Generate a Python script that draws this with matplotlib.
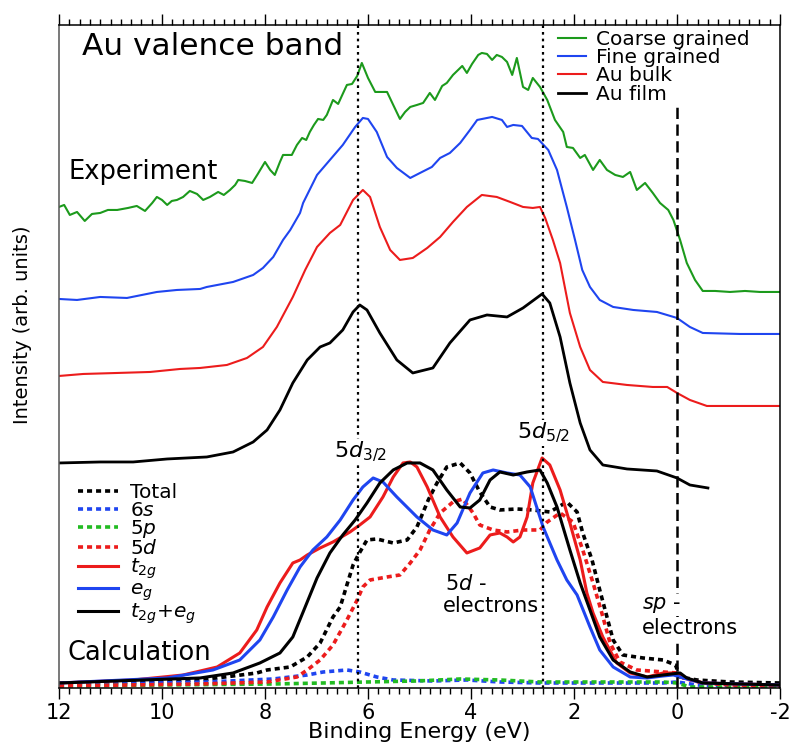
import matplotlib
matplotlib.use("Agg")
import matplotlib.pyplot as plt
from matplotlib.ticker import MultipleLocator

plt.rcParams["axes.unicode_minus"] = False

# ---------------------------------------------------------------------------
# Experimental spectra (binding energy in eV, intensity in arb. units,
# already stacked with the vertical offsets used in the figure)
# ---------------------------------------------------------------------------
coarse_e = [12.00, 11.90, 11.79, 11.65, 11.50, 11.36, 11.20, 11.05, 10.87, 10.66,
            10.49, 10.33, 10.19, 10.10, 10.00, 9.90, 9.81, 9.71, 9.59, 9.46,
            9.32, 9.20, 9.07, 8.91, 8.80, 8.68, 8.58, 8.52, 8.39, 8.25,
            8.14, 8.00, 7.90, 7.81, 7.71, 7.65, 7.48, 7.38, 7.28, 7.20,
            7.13, 7.05, 6.97, 6.87, 6.80, 6.68, 6.58, 6.50, 6.41, 6.31,
            6.21, 6.12, 6.00, 5.86, 5.75, 5.63, 5.51, 5.38, 5.28, 5.18,
            5.05, 4.93, 4.80, 4.70, 4.56, 4.47, 4.35, 4.25, 4.17, 4.08,
            3.98, 3.86, 3.79, 3.69, 3.59, 3.50, 3.40, 3.30, 3.20, 3.11,
            2.99, 2.89, 2.80, 2.66, 2.52, 2.37, 2.21, 2.14, 2.02, 1.88,
            1.79, 1.63, 1.50, 1.36, 1.20, 1.05, 0.91, 0.78, 0.62, 0.47,
            0.33, 0.17, 0.07, -0.06, -0.19, -0.35, -0.50, -0.74, -1.03, -1.32,
            -1.61, -2.00]
coarse_i = [481, 483, 473, 476, 467, 474, 475, 478, 478, 480,
            482, 477, 485, 491, 488, 483, 487, 488, 491, 497,
            494, 488, 491, 496, 493, 498, 503, 508, 507, 505,
            514, 526, 518, 513, 526, 533, 533, 543, 550, 548,
            556, 563, 569, 568, 573, 588, 584, 593, 603, 604,
            612, 625, 610, 596, 596, 596, 583, 569, 576, 581,
            583, 585, 595, 588, 602, 605, 613, 618, 622, 615,
            624, 633, 635, 634, 628, 633, 631, 626, 613, 630,
            601, 598, 610, 601, 588, 568, 556, 541, 540, 530,
            533, 518, 528, 518, 513, 511, 516, 498, 505, 495,
            485, 478, 468, 448, 425, 408, 397, 397, 396, 397,
            396, 396]

fine_e = [12.00, 11.65, 11.20, 10.68, 10.10, 9.71, 9.26, 9.13, 8.62, 8.23,
          8.04, 7.84, 7.65, 7.51, 7.32, 7.26, 6.99, 6.74, 6.49, 6.25,
          6.10, 6.00, 5.83, 5.63, 5.44, 5.18, 4.99, 4.76, 4.60, 4.41,
          4.21, 4.02, 3.88, 3.59, 3.40, 3.30, 3.18, 3.01, 2.82, 2.70,
          2.50, 2.33, 2.14, 1.98, 1.84, 1.69, 1.50, 1.24, 0.85, 0.39,
          0.00, -0.25, -0.50, -1.22, -2.00]
fine_i = [389, 388, 391, 390, 396, 398, 399, 401, 406, 413,
          420, 431, 448, 458, 475, 485, 513, 528, 543, 561,
          570, 569, 556, 531, 520, 510, 515, 521, 530, 535,
          545, 558, 568, 571, 568, 561, 563, 562, 550, 549,
          538, 518, 481, 448, 418, 401, 388, 381, 378, 376,
          370, 361, 355, 354, 354]

bulk_e = [12.00, 11.53, 10.87, 10.23, 9.65, 9.26, 8.74, 8.35, 8.04, 7.77,
          7.46, 7.22, 6.99, 6.74, 6.54, 6.29, 6.10, 5.96, 5.77, 5.57,
          5.38, 5.13, 4.85, 4.60, 4.35, 4.08, 3.79, 3.50, 3.24, 2.99,
          2.80, 2.66, 2.56, 2.41, 2.27, 2.08, 1.88, 1.69, 1.44, 0.97,
          0.47, 0.19, 0.00, -0.25, -0.58, -1.22, -2.00]
bulk_i = [312, 314, 315, 316, 319, 320, 323, 330, 341, 361,
          391, 418, 441, 455, 463, 488, 498, 491, 461, 438,
          428, 430, 440, 451, 466, 481, 493, 491, 486, 481,
          480, 481, 470, 448, 425, 375, 341, 318, 306, 303,
          301, 301, 295, 288, 282, 282, 282]

film_e = [12.00, 11.20, 10.56, 9.90, 9.13, 8.62, 8.23, 7.96, 7.71, 7.46,
          7.18, 6.93, 6.74, 6.49, 6.29, 6.16, 6.02, 5.77, 5.44, 5.13,
          4.74, 4.41, 4.02, 3.69, 3.30, 2.99, 2.62, 2.47, 2.27, 2.08,
          1.88, 1.69, 1.44, 0.97, 0.39, 0.00, -0.25, -0.60]
film_i = [225, 226, 226, 229, 231, 236, 246, 258, 278, 305,
          328, 341, 345, 358, 376, 383, 378, 355, 328, 315,
          320, 345, 368, 373, 371, 380, 394, 385, 351, 305,
          265, 238, 223, 219, 217, 210, 203, 200]

# ---------------------------------------------------------------------------
# Calculated density of states
# ---------------------------------------------------------------------------
total_e = [12.00, 10.56, 9.26, 8.62, 8.16, 7.96, 7.51, 7.18, 6.93, 6.68,
           6.54, 6.41, 6.29, 6.19, 6.02, 5.83, 5.51, 5.24, 5.05, 4.83,
           4.66, 4.47, 4.21, 4.02, 3.83, 3.63, 3.44, 3.11, 2.80, 2.47,
           2.14, 1.94, 1.83, 1.65, 1.50, 1.36, 1.24, 1.05, 0.66, 0.27,
           0.03, -0.06, -0.39, -1.03, -2.00]
total_i = [5, 6, 8, 12, 15, 18, 21, 31, 45, 71,
           81, 103, 123, 133, 148, 149, 145, 148, 161, 188,
           205, 221, 225, 215, 196, 181, 178, 179, 178, 176,
           186, 176, 155, 128, 98, 71, 48, 33, 30, 28,
           23, 11, 8, 6, 5]

d5_e = [12.00, 9.26, 7.96, 7.38, 7.18, 6.93, 6.68, 6.41, 6.21, 6.10,
        5.96, 5.63, 5.38, 5.18, 4.99, 4.80, 4.60, 4.35, 4.16, 3.96,
        3.83, 3.57, 3.30, 2.99, 2.66, 2.52, 2.27, 2.02, 1.83, 1.63,
        1.46, 1.30, 1.11, 0.78, 0.27, 0.00, -0.12, -0.50, -1.03, -2.00]
d5_i = [2, 4, 6, 11, 18, 28, 43, 68, 88, 101,
        108, 111, 113, 125, 138, 158, 175, 186, 189, 175,
        163, 158, 156, 158, 158, 166, 175, 166, 138, 105,
        75, 45, 26, 18, 16, 15, 10, 5, 3, 2]

s6_e = [12.00, 9.13, 7.84, 7.18, 6.87, 6.41, 6.16, 5.83, 5.51, 4.74,
        4.08, 3.44, 2.66, 1.55, 0.27, 0.00, -0.39, -2.00]
s6_i = [3, 6, 9, 13, 16, 18, 16, 11, 8, 7,
        8, 6, 5, 5, 5, 6, 3, 1]

p5_e = [12.00, 7.84, 6.87, 6.02, 5.05, 4.21, 3.44, 2.66, 1.55, 0.27,
        0.00, -0.25, -2.00]
p5_i = [2, 4, 5, 6, 7, 9, 8, 6, 6, 6,
        5, 1, 1]

t2g_e = [12.00, 10.56, 9.59, 8.93, 8.49, 8.16, 7.96, 7.71, 7.46, 7.32,
         7.18, 6.93, 6.68, 6.35, 6.16, 5.96, 5.71, 5.51, 5.32, 5.18,
         5.05, 4.85, 4.60, 4.35, 4.08, 3.83, 3.63, 3.44, 3.30, 3.18,
         3.05, 2.91, 2.80, 2.62, 2.47, 2.27, 2.08, 1.88, 1.75, 1.63,
         1.44, 1.17, 0.91, 0.58, 0.27, 0.07, -0.12, -0.50, -2.00]
t2g_i = [5, 8, 13, 21, 35, 58, 81, 105, 125, 128,
         133, 140, 146, 156, 163, 171, 191, 211, 225, 226,
         221, 201, 171, 151, 135, 140, 153, 155, 151, 146,
         151, 171, 205, 230, 223, 198, 165, 128, 95, 75,
         51, 25, 15, 11, 15, 15, 10, 5, 3]

eg_e = [12.00, 9.90, 9.01, 8.49, 8.10, 7.84, 7.57, 7.32, 7.07, 6.80,
        6.54, 6.29, 6.10, 5.90, 5.71, 5.44, 5.05, 4.74, 4.47, 4.27,
        4.02, 3.77, 3.57, 3.30, 3.05, 2.85, 2.60, 2.33, 2.14, 1.94,
        1.69, 1.50, 1.24, 0.91, 0.58, 0.27, 0.07, -0.12, -0.50, -2.00]
eg_i = [5, 10, 18, 28, 48, 71, 98, 121, 138, 151,
        168, 188, 201, 210, 206, 191, 171, 158, 153, 165,
        195, 215, 218, 215, 213, 201, 161, 128, 108, 93,
        61, 38, 21, 11, 10, 12, 13, 10, 5, 3]

sum_e = [12.00, 9.26, 8.62, 8.10, 7.71, 7.46, 7.26, 6.99, 6.74, 6.49,
         6.25, 6.02, 5.77, 5.51, 5.24, 4.99, 4.74, 4.47, 4.21, 4.02,
         3.83, 3.63, 3.44, 3.18, 2.91, 2.66, 2.52, 2.33, 2.08, 1.88,
         1.69, 1.50, 1.24, 0.91, 0.58, 0.27, -0.06, -0.19, -0.50, -2.00]
sum_i = [5, 10, 15, 25, 35, 51, 76, 110, 135, 153,
         168, 185, 205, 218, 225, 225, 218, 198, 181, 180,
         188, 208, 216, 213, 216, 218, 205, 181, 138, 105,
         78, 51, 28, 16, 11, 13, 15, 10, 5, 3]

# reference energies marked in the figure
peak_lines = [6.2, 2.6]   # 5d3/2 and 5d5/2
fermi_level = 0.0

GREEN = "#1c9a1c"
BLUE = "#1f45f0"
RED = "#ec1c1c"
DOT = (0, (1.4, 1.1))

fig = plt.figure(figsize=(7.91, 7.47), dpi=100)
ax = fig.add_axes([0.0746, 0.079, 0.9115, 0.8876])

# experiment
h_coarse, = ax.plot(coarse_e, coarse_i, color=GREEN, lw=1.5, label="Coarse grained")
h_fine, = ax.plot(fine_e, fine_i, color=BLUE, lw=1.5, label="Fine grained")
h_bulk, = ax.plot(bulk_e, bulk_i, color=RED, lw=1.5, label="Au bulk")
h_film, = ax.plot(film_e, film_i, color="black", lw=2.0, label="Au film")

# calculation
h_tot, = ax.plot(total_e, total_i, color="black", lw=2.6, ls=DOT, label="Total")
h_6s, = ax.plot(s6_e, s6_i, color=BLUE, lw=2.6, ls=DOT, label=r"$\mathit{6s}$")
h_5p, = ax.plot(p5_e, p5_i, color="#22bb22", lw=2.6, ls=DOT, label=r"$\mathit{5p}$")
h_5d, = ax.plot(d5_e, d5_i, color=RED, lw=2.6, ls=DOT, label=r"$\mathit{5d}$")
h_t2g, = ax.plot(t2g_e, t2g_i, color=RED, lw=2.2, label=r"$\mathit{t}_{\mathit{2g}}$")
h_eg, = ax.plot(eg_e, eg_i, color=BLUE, lw=2.2, label=r"$\mathit{e}_{\mathit{g}}$")
h_sum, = ax.plot(sum_e, sum_i, color="black", lw=2.2,
                 label=r"$\mathit{t}_{\mathit{2g}}$+$\mathit{e}_{\mathit{g}}$")

ymax = 663
for e in peak_lines:
    ax.vlines(e, 0, ymax, colors="black", lw=1.6, linestyles=(0, (1.2, 1.8)), zorder=3)
ax.vlines(fermi_level, 0, 583, colors="black", lw=1.8, linestyles=(0, (4.5, 2.2)), zorder=3)

ax.set_xlim(12, -2)
ax.set_ylim(0, ymax)
ax.set_yticks([])
ax.xaxis.set_major_locator(MultipleLocator(2))
ax.xaxis.set_minor_locator(MultipleLocator(0.2))
ax.tick_params(axis="x", which="both", direction="out", top=True, labeltop=False,
               labelsize=15, pad=3, width=1)
ax.tick_params(axis="x", which="major", length=8)
ax.tick_params(axis="x", which="minor", length=4.5)
for s in ax.spines.values():
    s.set_linewidth(1.1)
ax.spines["left"].set_color("#555555")

ax.set_xlabel("Binding Energy (eV)", fontsize=16, labelpad=-1)
fig.text(0.028, 1 - 325 / 747, "Intensity (arb. units)", rotation=90,
         fontsize=14, ha="center", va="center")

white = dict(facecolor="white", edgecolor="none", pad=0.5)
ax.text(11.55, 641, "Au valence band", fontsize=22.5, va="center")
ax.text(11.81, 516, "Experiment", fontsize=18.5, va="center")
ax.text(11.83, 35, "Calculation", fontsize=18.5, va="center")
ax.text(6.15, 236, r"$\mathit{5d}_{\mathit{3/2}}$", fontsize=16, ha="center",
        va="center", bbox=white, zorder=4)
ax.text(2.6, 255, r"$\mathit{5d}_{\mathit{5/2}}$", fontsize=16, ha="center",
        va="center", bbox=white, zorder=4)
ax.text(4.50, 104, r"$\mathit{5d}$ -", fontsize=15, va="center", zorder=4)
ax.text(4.54, 82, "electrons", fontsize=15, va="center", bbox=white, zorder=4)
ax.text(0.68, 83, r"$\mathit{sp}$ -", fontsize=15, va="center", bbox=white, zorder=4)
ax.text(0.68, 60, "electrons", fontsize=15, va="center", bbox=white, zorder=4)

leg1 = ax.legend(handles=[h_coarse, h_fine, h_bulk, h_film], loc="upper left",
                 bbox_to_anchor=(0.692, 0.993), frameon=False, fontsize=14.5,
                 handlelength=1.4, handletextpad=0.5, labelspacing=-0.03,
                 borderpad=0, borderaxespad=0)
ax.add_artist(leg1)
ax.legend(handles=[h_tot, h_6s, h_5p, h_5d, h_t2g, h_eg, h_sum], loc="upper left",
          bbox_to_anchor=(0.026, 0.309), frameon=False, fontsize=14.5,
          handlelength=2.0, handletextpad=0.6, labelspacing=-0.07,
          borderpad=0, borderaxespad=0)

fig.savefig("out.png", dpi=100)
